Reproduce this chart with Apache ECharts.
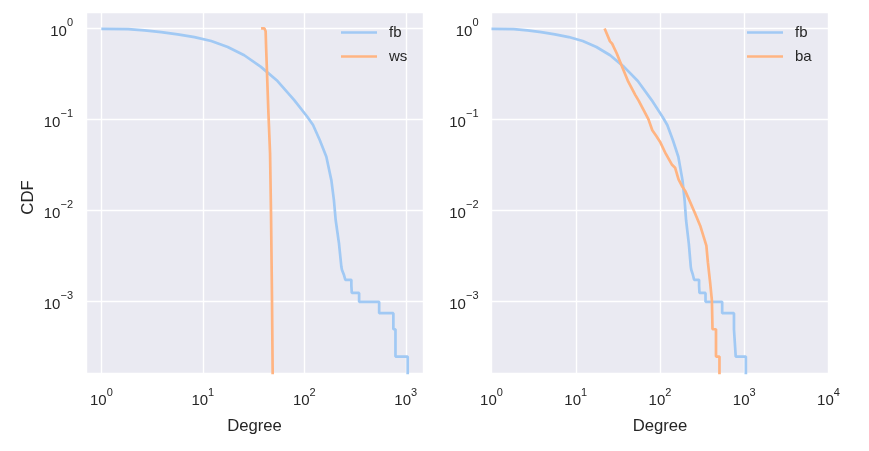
<!DOCTYPE html>
<html>
<head>
<meta charset="utf-8">
<script src="https://cdn.jsdelivr.net/npm/echarts@6/dist/echarts.min.js"></script>
<style>
html,body{margin:0;padding:0;background:#ffffff;}
#chart{width:869px;height:451px;}
</style>
</head>
<body>
<div id="chart"></div>
<script>
// ---- data (degree, complementary CDF) ----
const fbDegree = [1, 1.83, 2.67, 3.89, 5.66, 8.27, 12.1, 17.6, 25.6, 37.4, 54.5, 79.6, 107, 122, 142, 165, 185, 196, 204, 220, 232,
  235, 245, 245, 254, 254, 291, 291, 294, 294, 347, 347, 547, 547, 755, 755, 792, 792, 1045, 1045];
const fbCcdf = [0.99, 0.982, 0.951, 0.911, 0.86, 0.803, 0.726, 0.625, 0.507, 0.378, 0.264, 0.163, 0.107, 0.0868, 0.0594, 0.0389, 0.0214, 0.0129, 0.0078, 0.0043, 0.0024,
  0.00223, 0.00223, 0.00198, 0.00198, 0.00173, 0.00173, 0.00149, 0.00149, 0.00124, 0.00124, 0.00099, 0.00099, 0.000743, 0.000743, 0.000495, 0.000495, 0.000248, 0.000248, 0.0001];

const wsDegree = [37.5, 40.5, 41.6, 42, 43.5, 44.2, 46, 46, 47, 47, 48, 48, 49, 49];
const wsCcdf = [1.0, 1.0, 0.93, 0.65, 0.645, 0.127, 0.127, 0.0424, 0.0424, 0.0093, 0.0093, 0.00123, 0.00123, 0.0001];

const baDegree = [22, 23.3, 25.5, 27, 30.6, 35.5, 42, 51, 56, 63.5, 73, 81, 90, 100, 117, 138, 151, 166, 182, 199, 220, 258, 300, 337, 355, 370, 394, 413, 420, 462, 462, 508, 508];
const baCcdf = [1.0, 0.88, 0.72, 0.68, 0.533, 0.38, 0.26, 0.185, 0.16, 0.128, 0.1, 0.076, 0.066, 0.057, 0.042, 0.032, 0.0295, 0.022, 0.0186, 0.0164, 0.0133, 0.0095, 0.0068, 0.0048, 0.0041, 0.0027, 0.0016, 0.00103, 0.000495, 0.000495, 0.000248, 0.000248, 0.0001];

const leftNames = ['fb', 'ws'];
const rightNames = ['fb', 'ba'];
const xTitle = 'Degree';
const yTitle = 'CDF';
const leftXRange = [0.706, 1479];
const rightXRange = [1, 10000];
const yRange = [1.637e-4, 1.514];

// ---- styling ----
const FONT = '"Liberation Sans", Arial, sans-serif';
const TXT = '#262626';
const BG = '#EAEAF2';
const BLUE = '#a1c9f4';
const ORANGE = '#ffb482';

function pairs(xs, ys) { return xs.map((x, i) => [x, ys[i]]); }

function powLabel(v) {
  const e = Math.log10(v);
  const n = Math.round(e);
  if (Math.abs(e - n) > 1e-6) return '';
  const exp = n < 0 ? '\u2212' + (-n) : String(n);
  return '{h|\u200b}{b|10}{s|' + exp + '}';
}
const richLab = {
  h: { fontSize: 2, lineHeight: 21, verticalAlign: 'top' },
  b: { fontSize: 15, fontFamily: FONT, color: TXT, lineHeight: 15, verticalAlign: 'bottom' },
  s: { fontSize: 11, fontFamily: FONT, color: TXT, lineHeight: 12, verticalAlign: 'top' }
};

function xAxis(gridIndex, range) {
  return {
    type: 'log', logBase: 10, gridIndex: gridIndex,
    min: range[0], max: range[1],
    name: xTitle, nameLocation: 'middle', nameGap: 45,
    nameTextStyle: { fontSize: 16.7, fontFamily: FONT, color: TXT },
    axisLine: { show: false }, axisTick: { show: false },
    axisLabel: { formatter: powLabel, rich: richLab, margin: 14, showMinLabel: true, showMaxLabel: true, hideOverlap: false },
    splitLine: { show: true, lineStyle: { color: '#ffffff', width: 1.4 } }
  };
}
function yAxis(gridIndex, withName) {
  return {
    type: 'log', logBase: 10, gridIndex: gridIndex,
    min: yRange[0], max: yRange[1],
    name: withName ? yTitle : '', nameLocation: 'middle', nameGap: 49,
    nameTextStyle: { fontSize: 16.7, fontFamily: FONT, color: TXT, padding: [0, 10, 0, 0] },
    axisLine: { show: false }, axisTick: { show: false },
    axisLabel: { formatter: powLabel, rich: richLab, margin: 13, showMinLabel: true, showMaxLabel: true, hideOverlap: false },
    splitLine: { show: true, lineStyle: { color: '#ffffff', width: 1.4 } }
  };
}
function lineSeries(name, color, xi, data) {
  return {
    type: 'line', name: name, xAxisIndex: xi, yAxisIndex: xi,
    data: data, showSymbol: false, symbol: 'none', smooth: false,
    color: color, itemStyle: { color: color },
    lineStyle: { color: color, width: 2.7 },
    animation: false, clip: true
  };
}
function legend(names, left) {
  return {
    data: names, orient: 'vertical', left: left, top: 25,
    icon: 'rect', itemWidth: 36, itemHeight: 2.7, itemGap: 9, padding: 0,
    selectedMode: false,
    textStyle: { fontSize: 15, fontFamily: FONT, color: TXT, padding: [0, 0, 0, 7] }
  };
}

const chart = echarts.init(document.getElementById('chart'), null, { renderer: 'canvas' });
chart.setOption({
  backgroundColor: '#ffffff',
  animation: false,
  textStyle: { fontFamily: FONT },
  grid: [
    { left: 86, top: 12, width: 337, height: 361, show: true, backgroundColor: BG, borderWidth: 0, containLabel: false },
    { left: 491.5, top: 12, width: 337, height: 361, show: true, backgroundColor: BG, borderWidth: 0, containLabel: false }
  ],
  xAxis: [xAxis(0, leftXRange), xAxis(1, rightXRange)],
  yAxis: [yAxis(0, true), yAxis(1, false)],
  legend: [legend(leftNames, 341), legend(rightNames, 747)],
  series: [
    lineSeries(leftNames[0], BLUE, 0, pairs(fbDegree, fbCcdf)),
    lineSeries(leftNames[1], ORANGE, 0, pairs(wsDegree, wsCcdf)),
    lineSeries(rightNames[0], BLUE, 1, pairs(fbDegree, fbCcdf)),
    lineSeries(rightNames[1], ORANGE, 1, pairs(baDegree, baCcdf))
  ]
});
</script>
</body>
</html>
